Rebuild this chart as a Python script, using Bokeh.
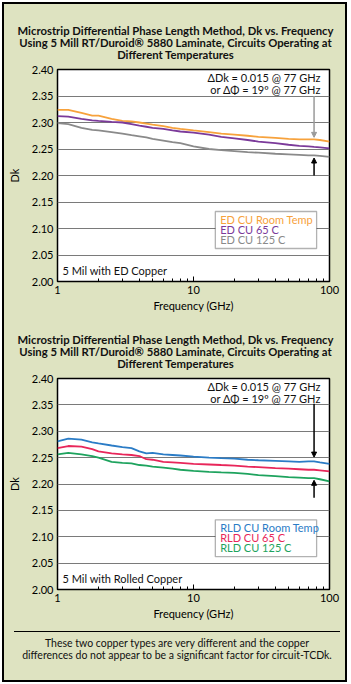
from bokeh.plotting import figure
from bokeh.layouts import column
from bokeh.models import (FixedTicker, PrintfTickFormatter, Label, BoxAnnotation,
                          Arrow, NormalHead, Div)
from bokeh.embed import file_html
from bokeh.resources import INLINE

BG = "#dee3c1"
FONT = "Lato"

# ---------------- data ----------------
FREQ = [1, 1.2, 1.5, 1.8, 2, 2.5, 3, 3.5, 4, 4.5, 5, 6, 7, 8, 10, 13, 16, 20,
        25, 30, 40, 50, 60, 70, 77, 85, 100]

ED_ROOM = [2.324, 2.324, 2.318, 2.313, 2.313, 2.307, 2.303, 2.302, 2.300, 2.298,
           2.296, 2.293, 2.290, 2.288, 2.285, 2.282, 2.279, 2.277, 2.275, 2.273,
           2.271, 2.269, 2.268, 2.268, 2.268, 2.267, 2.264]
ED_65 = [2.312, 2.311, 2.307, 2.304, 2.303, 2.301, 2.300, 2.297, 2.294, 2.292,
         2.290, 2.288, 2.285, 2.283, 2.281, 2.277, 2.273, 2.270, 2.267, 2.264,
         2.261, 2.258, 2.256, 2.255, 2.254, 2.253, 2.251]
ED_125 = [2.299, 2.297, 2.290, 2.286, 2.285, 2.282, 2.279, 2.276, 2.274, 2.272,
          2.269, 2.266, 2.263, 2.261, 2.255, 2.250, 2.248, 2.246, 2.244, 2.243,
          2.241, 2.240, 2.239, 2.238, 2.238, 2.237, 2.235]

RLD_ROOM = [2.281, 2.286, 2.284, 2.279, 2.277, 2.273, 2.270, 2.268, 2.262, 2.258,
            2.259, 2.256, 2.255, 2.254, 2.252, 2.250, 2.249, 2.248, 2.246, 2.245,
            2.244, 2.243, 2.242, 2.243, 2.243, 2.241, 2.238]
RLD_65 = [2.268, 2.272, 2.271, 2.266, 2.262, 2.258, 2.256, 2.255, 2.253, 2.247,
          2.246, 2.242, 2.241, 2.240, 2.238, 2.237, 2.236, 2.235, 2.233, 2.232,
          2.230, 2.229, 2.228, 2.227, 2.227, 2.226, 2.224]
RLD_125 = [2.256, 2.259, 2.256, 2.253, 2.250, 2.242, 2.240, 2.239, 2.236, 2.235,
           2.233, 2.231, 2.229, 2.227, 2.225, 2.223, 2.222, 2.221, 2.219, 2.217,
           2.215, 2.213, 2.212, 2.211, 2.211, 2.209, 2.205]

ED_LABELS = ["ED CU Room Temp", "ED CU 65 C", "ED CU 125 C"]
RLD_LABELS = ["RLD CU Room Temp", "RLD CU 65 C", "RLD CU 125 C"]
ED_COLORS = ["#f7a23c", "#7b3a9a", "#8a8a8a"]
RLD_COLORS = ["#2b7cc6", "#e8265a", "#1ea35e"]

Y_TICKS = [2.00, 2.05, 2.10, 2.15, 2.20, 2.25, 2.30, 2.35, 2.40]
X_TICKS = [1, 10, 100]
X_MINOR = [2, 3, 4, 5, 6, 7, 8, 9, 20, 30, 40, 50, 60, 70, 80, 90]

TITLE_LINES = ["Microstrip Differential Phase Length Method, Dk vs. Frequency",
               "Using 5 Mill RT/Duroid\u00ae 5880 Laminate, Circuits Operating at",
               "Different Temperatures"]
NOTE_LINES = ["\u0394Dk = 0.015 @ 77 GHz", "or \u0394\u03a6 = 19\u00ba @ 77 GHz"]
CAPTION_LINES = ["These two copper types are very different and the copper",
                 "differences do not appear to be a significant factor for circuit-TCDk."]
ARROW_FREQ = 77


def make_title(height, pad_top):
    return Div(text="<br>".join(TITLE_LINES), width=341, height=height,
               margin=(0, 0, 0, 0),
               styles={"text-align": "center", "font-family": FONT,
                       "font-size": "11.3px", "font-weight": "bold",
                       "line-height": "12px", "white-space": "nowrap",
                       "padding-top": f"{pad_top}px", "padding-left": "2px",
                       "box-sizing": "border-box", "color": "#111111"})


def make_panel(series, labels, colors, note, height, top, bottom, arrows):
    p = figure(width=341, height=height, x_axis_type="log", x_range=(1, 100),
               y_range=(2.0, 2.4), output_backend="svg", toolbar_location=None,
               min_border_left=51, min_border_right=16, min_border_top=top,
               min_border_bottom=bottom, background_fill_color="white",
               border_fill_color=BG)
    p.outline_line_color = "black"
    p.outline_line_width = 1.5
    p.xgrid.visible = False
    p.ygrid.grid_line_color = "#7a7a7a"
    p.ygrid.grid_line_width = 1

    p.yaxis.ticker = FixedTicker(ticks=Y_TICKS)
    p.yaxis.formatter = PrintfTickFormatter(format="%.2f")
    p.xaxis.ticker = FixedTicker(ticks=X_TICKS, minor_ticks=X_MINOR)
    p.xaxis.major_label_overrides = {t: str(t) for t in X_TICKS}
    for ax in (p.xaxis, p.yaxis):
        ax.axis_line_color = None
        ax.major_tick_out = 0
        ax.minor_tick_out = 0
        ax.major_label_text_font = FONT
        ax.major_label_text_font_size = "11px"
        ax.major_label_text_color = "black"
        ax.axis_label_text_font = FONT
        ax.axis_label_text_font_size = "11px"
        ax.axis_label_text_font_style = "normal"
        ax.axis_label_text_color = "black"
    p.yaxis.major_tick_in = 0
    p.yaxis.minor_tick_in = 0
    p.xaxis.major_tick_in = 5
    p.xaxis.minor_tick_in = 3
    p.xaxis.major_tick_line_color = "black"
    p.xaxis.minor_tick_line_color = "black"
    p.yaxis.major_label_standoff = 4
    p.xaxis.major_label_standoff = 4
    p.xaxis.axis_label = "Frequency (GHz)"
    p.xaxis.axis_label_standoff = 2
    p.yaxis.axis_label = "Dk"
    p.yaxis.axis_label_standoff = 8

    for vals, col in zip(series, colors):
        p.line(FREQ, vals, line_color=col, line_width=1.8)

    # notes
    for txt, yy in zip(NOTE_LINES, [2.385, 2.362]):
        p.add_layout(Label(x=86, y=yy, text=txt, text_align="right",
                           text_baseline="middle", text_font=FONT,
                           text_font_size="11px", text_color="#111111"))
    # arrows
    for (y0, y1, col) in arrows:
        p.add_layout(Arrow(end=NormalHead(size=5, fill_color=col, line_color=col),
                           x_start=ARROW_FREQ, y_start=y0, x_end=ARROW_FREQ, y_end=y1,
                           line_color=col, line_width=1.5))
    # legend box
    p.add_layout(BoxAnnotation(left=14.47, right=80.4, top=2.1321, bottom=2.0623,
                               fill_color="white", fill_alpha=1.0,
                               line_color="black", line_width=1.3))
    for txt, col, yy in zip(labels, colors, [2.117, 2.098, 2.0795]):
        p.add_layout(Label(x=15.7, y=yy, text=txt, text_align="left",
                           text_baseline="middle", text_font=FONT,
                           text_font_size="11px", text_color=col))
    p.add_layout(Label(x=1.088, y=2.0208, text=note, text_align="left",
                       text_baseline="middle", text_font=FONT,
                       text_font_size="11px", text_color="#111111"))
    return p


t1 = make_title(58, 20.5)
p1 = make_panel([ED_ROOM, ED_65, ED_125], ED_LABELS, ED_COLORS,
                "5 Mil with ED Copper", 254, 7, 35,
                [(2.350, 2.272, "#9a9a9a"), (2.200, 2.233, "black")])
t2 = make_title(55, 17.5)
p2 = make_panel([RLD_ROOM, RLD_65, RLD_125], RLD_LABELS, RLD_COLORS,
                "5 Mil with Rolled Copper", 251, 7, 33,
                [(2.352, 2.251, "black"), (2.174, 2.207, "black")])

caption = Div(text="<br>".join(CAPTION_LINES),
              width=326, height=49, margin=(9, 0, 0, 10),
              styles={"border-top": "1px solid black", "text-align": "center",
                      "font-family": FONT, "font-size": "10.5px", "line-height": "11.5px",
                      "padding-top": "6px", "color": "#111111", "box-sizing": "border-box",
                      "white-space": "nowrap"})

layout = column(t1, p1, t2, p2, caption, margin=(2, 0, 0, 2),
                styles={"border": "2px solid black", "background-color": BG})

open("out.html", "w").write(file_html(layout, INLINE))
